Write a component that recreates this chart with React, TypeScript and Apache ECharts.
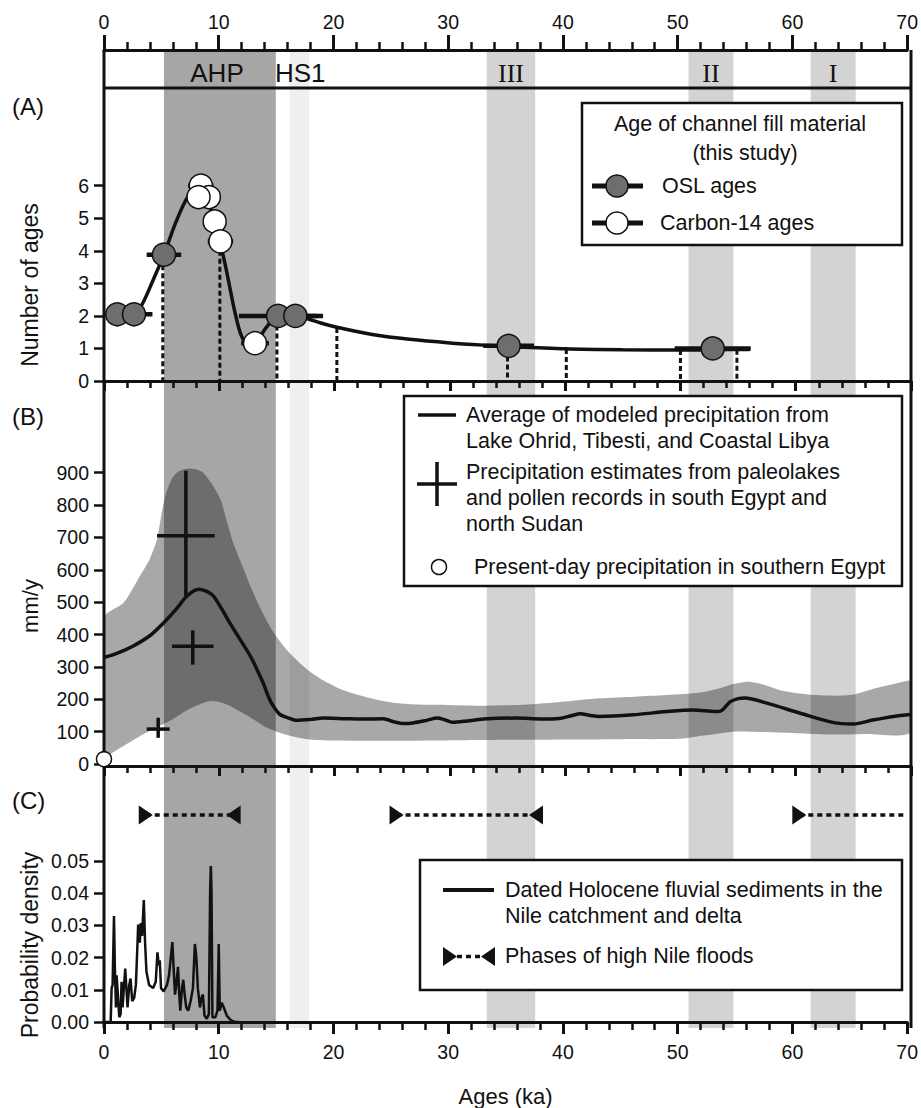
import React, { useEffect, useRef } from 'react';
import * as echarts from 'echarts';

// ---------- shared x axis ----------
const X_MIN = 0;
const X_MAX = 70;

// ---------- background periods ----------
const bandNames = ['AHP', 'HS1', 'III', 'II', 'I'];
const bandStart = [5.2, 16.1, 33.2, 50.7, 61.3];
const bandEnd = [14.9, 17.8, 37.4, 54.6, 65.2];

// ---------- panel A ----------
const countTicks = [0, 1, 2, 3, 4, 5, 6];
const oslAge = [1.15, 2.6, 5.2, 15.1, 16.6, 35.1, 52.8];
const oslCount = [2.05, 2.05, 3.88, 2.0, 2.0, 1.08, 1.0];
const oslErr = [0.7, 1.6, 1.5, 3.4, 2.4, 2.2, 3.3];
const c14Age = [8.4, 9.1, 8.2, 9.6, 10.1, 13.1];
const c14Count = [6.0, 5.65, 5.65, 4.9, 4.29, 1.16];
const c14Err = [1.1, 0.6, 0.9, 0.9, 1.1, 1.2];
const curveA: [number, number][] = [
  [2.6, 2.05], [3.3, 2.35], [4.2, 3.05], [5.2, 3.88], [6.2, 4.85], [7.2, 5.62], [8.0, 5.9],
  [8.8, 5.7], [9.5, 5.0], [10.1, 4.2], [10.5, 3.6], [10.9, 2.9], [11.3, 2.2], [11.8, 1.5],
  [12.3, 1.15], [12.8, 1.08], [13.4, 1.3], [14.2, 1.7], [15.1, 2.0], [16.6, 2.0], [17.6, 1.92],
  [18.8, 1.78], [20.2, 1.65], [23.4, 1.42], [26.5, 1.28], [30, 1.17], [33, 1.1], [35.1, 1.06],
  [40, 0.99], [45, 0.96], [50, 0.95], [53, 0.96], [56, 0.97],
];
const dropAge = [5.1, 10.05, 15.0, 20.2, 35.0, 40.1, 50.0, 54.9];
const dropTop = [3.8, 4.0, 1.95, 1.63, 1.0, 0.98, 0.95, 0.96];

// ---------- panel B ----------
const precipTicks = [0, 100, 200, 300, 400, 500, 600, 700, 800, 900];
const avgPrecip: [number, number][] = [
  [0, 329], [1, 340], [2.5, 364], [4, 397], [5.2, 437], [6.3, 480], [7.2, 519], [8.2, 540], [9, 532],
  [9.5, 519], [10.2, 480], [10.9, 437], [11.8, 385], [12.7, 333], [13.3, 290], [13.8, 251], [14.3, 205],
  [14.7, 178], [15.2, 155], [15.6, 147], [16.2, 140], [16.7, 135], [18, 138], [19, 142], [21, 140],
  [22.5, 139], [24.2, 140], [25.2, 130], [26, 125], [26.8, 127], [28, 135], [28.9, 142], [29.6, 136],
  [30.2, 129], [31.5, 133], [32.9, 139], [35.8, 142], [38, 139], [39.5, 141], [40.6, 150], [41.3, 155],
  [42.2, 150], [43, 147], [45.9, 152], [48.8, 162], [51.1, 167], [53.1, 162], [53.6, 166], [54.3, 192],
  [55, 202], [55.6, 204], [57.5, 188], [60.4, 157], [63.3, 128], [65, 124], [66.7, 136], [68.5, 147], [70, 153],
];
const precipUpper: [number, number][] = [
  [0, 452], [1.7, 498], [3.1, 580], [4.0, 636], [4.6, 694], [5.0, 775], [5.4, 838], [5.9, 882], [6.3, 900],
  [7.0, 911], [7.5, 913], [8.1, 909], [8.6, 900], [9.3, 868], [10.1, 818], [10.6, 757], [11.2, 684],
  [12.0, 612], [12.7, 550], [13.6, 478], [14.7, 407], [16.0, 347], [17.6, 293], [19.0, 259], [20.5, 232],
  [22, 214], [23.4, 201], [25, 190], [26.5, 185], [29, 183], [32.9, 180], [37.2, 185], [40, 193], [43, 203],
  [46, 208], [48.8, 213], [51.7, 221], [53.5, 235], [54.6, 247], [56, 254], [57.5, 242], [58.9, 226],
  [61.8, 213], [64.7, 213], [66.7, 232], [68.5, 247], [70, 254],
];
const precipLower: [number, number][] = [
  [0, 28], [1.5, 52], [3.1, 86], [4.5, 112], [6.0, 139], [7.0, 162], [8.0, 180], [9.0, 193], [9.5, 195],
  [10.2, 190], [10.9, 180], [11.8, 162], [12.7, 144], [14.1, 113], [15.6, 93], [17.6, 77], [20, 73],
  [26.5, 72], [35, 75], [45, 77], [50, 78], [52, 88], [54.6, 100], [56, 100], [60, 95], [63, 91],
  [66, 93], [70, 98],
];
const crossAge = [7.1, 7.7, 4.7];
const crossVal = [705, 364, 108];
const crossAgeErr = [2.5, 1.8, 1.0];
const crossLow = [519, 307, 81];
const crossHigh = [906, 413, 143];
const presentDay: [number, number] = [0, 15];

// ---------- panel C ----------
const densityTicks = [0, 0.01, 0.02, 0.03, 0.04, 0.05];
const density: [number, number][] = [
  [0, 0], [0.58, 0], [0.665, 0.0105], [0.75, 0.0115], [0.87, 0.0329], [0.95, 0.0166], [1.04, 0.0045],
  [1.1, 0.0145], [1.21, 0.0085], [1.33, 0.0015], [1.45, 0.0025], [1.53, 0.0125], [1.62, 0.0045],
  [1.73, 0.0105], [1.85, 0.0166], [1.97, 0.0095], [2.05, 0.0045], [2.2, 0.0115], [2.31, 0.0135],
  [2.46, 0.0065], [2.63, 0.0075], [2.78, 0.0115], [2.98, 0.0302], [3.12, 0.0246], [3.21, 0.0307],
  [3.32, 0.0267], [3.47, 0.0378], [3.58, 0.0246], [3.7, 0.0156], [3.93, 0.0115], [4.28, 0.0105],
  [4.51, 0.0125], [4.66, 0.0216], [4.77, 0.0176], [4.86, 0.0191], [4.97, 0.0105], [5.2, 0.0095],
  [5.49, 0.0115], [5.67, 0.0145], [5.81, 0.0196], [5.96, 0.0248], [6.07, 0.0166], [6.19, 0.0085],
  [6.3, 0.0115], [6.45, 0.0171], [6.56, 0.0085], [6.65, 0.0035], [6.8, 0.0105], [6.91, 0.0131],
  [7.03, 0.0085], [7.17, 0.0045], [7.34, 0.0035], [7.55, 0.0065], [7.75, 0.0105], [7.92, 0.0242],
  [8.04, 0.0206], [8.18, 0.0105], [8.36, 0.0045], [8.5, 0.0075], [8.62, 0.0085], [8.76, 0.002],
  [8.96, 0.001], [9.14, 0.0025], [9.25, 0.0408], [9.31, 0.0484], [9.37, 0.0408], [9.45, 0.0015],
  [9.71, 0.0015], [9.89, 0.0035], [10.0, 0.0242], [10.09, 0.0035], [10.26, 0.006], [10.44, 0.0045],
  [10.7, 0.002], [11.07, 0.0005], [11.45, 0], [11.8, 0],
];
const floodStart = [3.64, 25.5, 60.6];
const floodEnd = [11.3, 37.65, 70];
const floodHasEndMarker = [true, true, false];
const floodLevel = 0.0642;

// ---------- styles ----------
const FONT = "'Liberation Sans', Arial, Helvetica, sans-serif";
const SERIF = "'Liberation Serif', 'Times New Roman', serif";
const INK = '#111111';
const bandFill = ['#a6a6a6', '#efefef', '#d3d3d3', '#d3d3d3', '#d3d3d3'];
const GL = 104;
const GW = 807;
const GR = GL + GW;

function txt(text: string, x: number, y: number, size: number, align = 'left', family = FONT, extra: any = {}) {
  return {
    type: 'text',
    z: 60,
    x,
    y,
    ...extra,
    style: {
      text,
      x: 0,
      y: 0,
      fill: INK,
      fontSize: size,
      fontFamily: family,
      align,
      verticalAlign: 'middle',
      textAlign: align,
      textVerticalAlign: 'middle',
    },
  };
}

function ln(x1: number, y1: number, x2: number, y2: number, w: number, dash?: number[], z = 100) {
  return {
    type: 'line',
    z,
    shape: { x1, y1, x2, y2 },
    style: { stroke: INK, lineWidth: w, lineDash: dash || null },
  };
}

function xAxisBase(gridIndex: number, extra: any) {
  return {
    type: 'value',
    gridIndex,
    min: X_MIN,
    max: X_MAX,
    interval: 10,
    z: 10,
    splitLine: { show: false },
    axisLine: { onZero: false, lineStyle: { color: INK, width: 3 } },
    axisTick: { length: 10, lineStyle: { color: INK, width: 3 } },
    minorTick: { show: true, splitNumber: 5, length: 7, lineStyle: { color: INK, width: 2.5 } },
    axisLabel: { show: false, color: INK, fontSize: 19.5, fontFamily: FONT },
    ...extra,
  };
}

function yAxisBase(gridIndex: number, min: number, max: number, ticks: number[], fmt?: (v: number) => string) {
  return {
    type: 'value',
    gridIndex,
    min,
    max,
    z: 10,
    splitLine: { show: false },
    axisLine: { show: false },
    axisTick: { show: true, customValues: ticks, length: 10, lineStyle: { color: INK, width: 2.5 } },
    axisLabel: {
      show: true,
      customValues: ticks,
      color: INK,
      fontSize: 19.5,
      fontFamily: FONT,
      margin: 15,
      formatter: fmt || ((v: number) => String(v)),
    },
  };
}

function buildOption(): any {
  const errRender = (params: any, api: any) => {
    const a = api.value(0);
    const n = api.value(1);
    const e = api.value(2);
    const p1 = api.coord([a - e, n]);
    const p2 = api.coord([a + e, n]);
    return {
      type: 'line',
      shape: { x1: p1[0], y1: p1[1], x2: p2[0], y2: p2[1] },
      style: { stroke: INK, lineWidth: 4.5 },
    };
  };

  const graphics: any[] = [
    // frame
    ln(GL, 50, GL, 1028, 3),
    ln(GR, 50, GR, 1028, 3),
    ln(GL, 88, GR, 88, 3),
    // header labels
    txt('AHP', 217, 73, 26, 'center'),
    txt('HS1', 275, 73, 26, 'left'),
    txt('III', (bandStart[2] + bandEnd[2]) / 2 * (GW / 70) + GL, 73, 26, 'center', SERIF),
    txt('II', (bandStart[3] + bandEnd[3]) / 2 * (GW / 70) + GL, 73, 26, 'center', SERIF),
    txt('I', (bandStart[4] + bandEnd[4]) / 2 * (GW / 70) + GL, 73, 26, 'center', SERIF),
    // panel letters
    txt('(A)', 12, 106, 24),
    txt('(B)', 12, 416, 24),
    txt('(C)', 12, 800, 24),
    // axis names
    txt('Number of ages', 30, 285, 23, 'center', FONT, { rotation: Math.PI / 2 }),
    txt('mm/y', 30, 606, 22, 'center', FONT, { rotation: Math.PI / 2 }),
    txt('Probability density', 30, 945, 23, 'center', FONT, { rotation: Math.PI / 2 }),
    // legend A
    { type: 'rect', z: 50, shape: { x: 582, y: 103, width: 320, height: 142 }, style: { fill: '#ffffff', stroke: INK, lineWidth: 2.5 } },
    txt('Age of channel fill material', 740, 124, 21.5, 'center'),
    txt('(this study)', 745, 153, 21.5, 'center'),
    ln(592, 186, 643, 186, 5, undefined, 61),
    { type: 'circle', z: 62, shape: { cx: 617, cy: 186, r: 11 }, style: { fill: '#6e6e6e', stroke: INK, lineWidth: 1.5 } },
    txt('OSL ages', 662, 186, 21.5),
    ln(592, 223, 643, 223, 5, undefined, 61),
    { type: 'circle', z: 62, shape: { cx: 617, cy: 223, r: 11 }, style: { fill: '#ffffff', stroke: INK, lineWidth: 1.5 } },
    txt('Carbon-14 ages', 660, 223, 21.5),
    // legend B
    { type: 'rect', z: 50, shape: { x: 404, y: 396, width: 498, height: 190 }, style: { fill: '#ffffff', stroke: INK, lineWidth: 2.5 } },
    ln(418, 415, 456, 415, 3.5, undefined, 61),
    txt('Average of modeled precipitation from', 466, 415, 21.5),
    txt('Lake Ohrid, Tibesti, and Coastal Libya', 466, 441, 21.5),
    ln(417, 484, 457, 484, 3.5, undefined, 61),
    ln(437, 462, 437, 506, 3.5, undefined, 61),
    txt('Precipitation estimates from paleolakes', 466, 472, 21.5),
    txt('and pollen records in south Egypt and', 466, 498, 21.5),
    txt('north Sudan', 466, 524, 21.5),
    { type: 'circle', z: 62, shape: { cx: 439, cy: 567, r: 7.5 }, style: { fill: '#ffffff', stroke: INK, lineWidth: 1.5 } },
    txt('Present-day precipitation in southern Egypt', 474, 567, 21.5),
    // legend C
    { type: 'rect', z: 50, shape: { x: 420, y: 860, width: 482, height: 130 }, style: { fill: '#ffffff', stroke: INK, lineWidth: 2.5 } },
    ln(443, 890, 494, 890, 4, undefined, 61),
    txt('Dated Holocene fluvial sediments in the', 505, 890, 21.5),
    txt('Nile catchment and delta', 505, 916, 21.5),
    { type: 'polygon', z: 62, shape: { points: [[443, 947], [443, 966], [457, 956.5]] }, style: { fill: INK } },
    ln(457, 956.5, 482, 956.5, 3.5, [5, 4], 61),
    { type: 'polygon', z: 62, shape: { points: [[495, 947], [495, 966], [481, 956.5]] }, style: { fill: INK } },
    txt('Phases of high Nile floods', 505, 956, 21.5),
  ];

  return {
    animation: false,
    backgroundColor: '#ffffff',
    textStyle: { fontFamily: FONT },
    grid: [
      { left: GL, width: GW, top: 50, height: 38 },
      { left: GL, width: GW, top: 88, height: 293 },
      { left: GL, width: GW, top: 382, height: 384 },
      { left: GL, width: GW, top: 766, height: 262 },
      { left: GL, width: GW, top: 50, height: 978 },
    ],
    xAxis: [
      xAxisBase(0, {
        position: 'top',
        axisTick: { length: 15, lineStyle: { color: INK, width: 3 } },
        minorTick: { show: true, splitNumber: 5, length: 8, lineStyle: { color: INK, width: 2.5 } },
        axisLabel: { show: true, color: INK, fontSize: 19.5, fontFamily: FONT, margin: 18 },
      }),
      xAxisBase(1, {}),
      xAxisBase(2, {}),
      xAxisBase(3, {
        axisTick: { length: 12, lineStyle: { color: INK, width: 3 } },
        minorTick: { show: true, splitNumber: 5, length: 8, lineStyle: { color: INK, width: 2.5 } },
        axisLabel: { show: true, color: INK, fontSize: 19.5, fontFamily: FONT, margin: 20 },
        name: 'Ages (ka)',
        nameLocation: 'middle',
        nameGap: 63,
        nameTextStyle: { color: INK, fontSize: 22, fontFamily: FONT },
      }),
      { type: 'value', gridIndex: 4, min: X_MIN, max: X_MAX, show: false },
    ],
    yAxis: [
      { type: 'value', gridIndex: 0, min: 0, max: 1, show: false },
      yAxisBase(1, 0, 9, countTicks),
      yAxisBase(2, -6, 1180, precipTicks),
      yAxisBase(3, 0, 0.0794, densityTicks, (v: number) => v.toFixed(2)),
      { type: 'value', gridIndex: 4, min: 0, max: 1, show: false },
    ],
    graphic: { elements: graphics },
    series: [
      // background period bands
      {
        type: 'custom',
        xAxisIndex: 4,
        yAxisIndex: 4,
        z: 1,
        silent: true,
        data: bandStart.map((s, i) => [s, bandEnd[i], i]),
        renderItem: (params: any, api: any) => {
          const i = api.value(2);
          const p0 = api.coord([api.value(0), 1]);
          const p1 = api.coord([api.value(1), 0]);
          return {
            type: 'rect',
            shape: { x: p0[0], y: p0[1], width: p1[0] - p0[0], height: p1[1] - p0[1] },
            style: { fill: bandFill[i] },
          };
        },
      },
      // A: dotted drop lines
      {
        type: 'custom',
        xAxisIndex: 1,
        yAxisIndex: 1,
        z: 3,
        data: dropAge.map((a, i) => [a, dropTop[i]]),
        renderItem: (params: any, api: any) => {
          const p0 = api.coord([api.value(0), api.value(1)]);
          const p1 = api.coord([api.value(0), 0]);
          return {
            type: 'line',
            shape: { x1: p0[0], y1: p0[1], x2: p1[0], y2: p1[1] },
            style: { stroke: INK, lineWidth: 3, lineDash: [5, 3] },
          };
        },
      },
      // A: curve
      {
        type: 'line',
        xAxisIndex: 1,
        yAxisIndex: 1,
        z: 3,
        data: curveA,
        smooth: 0.3,
        showSymbol: false,
        symbol: 'none',
        lineStyle: { color: INK, width: 3.5 },
      },
      // A: error bars
      {
        type: 'custom',
        xAxisIndex: 1,
        yAxisIndex: 1,
        z: 3,
        data: oslAge.map((a, i) => [a, oslCount[i], oslErr[i]]),
        renderItem: errRender,
      },
      {
        type: 'custom',
        xAxisIndex: 1,
        yAxisIndex: 1,
        z: 3,
        data: c14Age.map((a, i) => [a, c14Count[i], c14Err[i]]),
        renderItem: errRender,
      },
      // A: points
      {
        type: 'scatter',
        xAxisIndex: 1,
        yAxisIndex: 1,
        z: 4,
        clip: false,
        symbolSize: 23,
        data: oslAge.map((a, i) => [a, oslCount[i]]),
        itemStyle: { color: '#6e6e6e', borderColor: INK, borderWidth: 1.5, opacity: 1 },
      },
      {
        type: 'scatter',
        xAxisIndex: 1,
        yAxisIndex: 1,
        z: 4,
        clip: false,
        symbolSize: 23,
        data: c14Age.map((a, i) => [a, c14Count[i]]),
        itemStyle: { color: '#ffffff', borderColor: INK, borderWidth: 1.5, opacity: 1 },
      },
      // B: uncertainty envelope
      {
        type: 'custom',
        xAxisIndex: 2,
        yAxisIndex: 2,
        z: 2,
        clip: true,
        silent: true,
        data: [[0, 0]],
        renderItem: (params: any, api: any) => {
          const pts: number[][] = [];
          precipUpper.forEach((p) => pts.push(api.coord(p)));
          for (let i = precipLower.length - 1; i >= 0; i--) pts.push(api.coord(precipLower[i]));
          return {
            type: 'polygon',
            shape: { points: pts, smooth: 0.25 },
            style: { fill: 'rgba(0,0,0,0.34)' },
          };
        },
      },
      // B: average line
      {
        type: 'line',
        xAxisIndex: 2,
        yAxisIndex: 2,
        z: 3,
        data: avgPrecip,
        smooth: 0.3,
        showSymbol: false,
        symbol: 'none',
        lineStyle: { color: INK, width: 3.5 },
      },
      // B: estimates crosses
      {
        type: 'custom',
        xAxisIndex: 2,
        yAxisIndex: 2,
        z: 4,
        data: crossAge.map((a, i) => [a, crossVal[i], crossAgeErr[i], crossLow[i], crossHigh[i]]),
        renderItem: (params: any, api: any) => {
          const a = api.value(0);
          const v = api.value(1);
          const e = api.value(2);
          const h0 = api.coord([a - e, v]);
          const h1 = api.coord([a + e, v]);
          const v0 = api.coord([a, api.value(3)]);
          const v1 = api.coord([a, api.value(4)]);
          return {
            type: 'group',
            children: [
              { type: 'line', shape: { x1: h0[0], y1: h0[1], x2: h1[0], y2: h1[1] }, style: { stroke: INK, lineWidth: 3.5 } },
              { type: 'line', shape: { x1: v0[0], y1: v0[1], x2: v1[0], y2: v1[1] }, style: { stroke: INK, lineWidth: 3.5 } },
            ],
          };
        },
      },
      // B: present-day
      {
        type: 'scatter',
        xAxisIndex: 2,
        yAxisIndex: 2,
        z: 120,
        clip: false,
        symbolSize: 15,
        data: [presentDay],
        itemStyle: { color: '#ffffff', borderColor: INK, borderWidth: 1.5, opacity: 1 },
      },
      // C: density
      {
        type: 'line',
        xAxisIndex: 3,
        yAxisIndex: 3,
        z: 3,
        data: density,
        showSymbol: false,
        symbol: 'none',
        lineStyle: { color: INK, width: 2.5 },
      },
      // C: flood phases
      {
        type: 'custom',
        xAxisIndex: 3,
        yAxisIndex: 3,
        z: 3,
        data: floodStart.map((s, i) => [s, floodEnd[i], floodLevel]),
        renderItem: (params: any, api: any) => {
          const p0 = api.coord([api.value(0), api.value(2)]);
          const p1 = api.coord([api.value(1), api.value(2)]);
          return {
            type: 'line',
            shape: { x1: p0[0], y1: p0[1], x2: p1[0], y2: p1[1] },
            style: { stroke: INK, lineWidth: 3.5, lineDash: [5, 4] },
          };
        },
      },
      {
        type: 'scatter',
        xAxisIndex: 3,
        yAxisIndex: 3,
        z: 4,
        clip: false,
        symbol: 'triangle',
        symbolRotate: -90,
        symbolSize: [19, 14],
        data: floodStart.map((s) => [s, floodLevel]),
        itemStyle: { color: INK, opacity: 1 },
      },
      {
        type: 'scatter',
        xAxisIndex: 3,
        yAxisIndex: 3,
        z: 4,
        clip: false,
        symbol: 'triangle',
        symbolRotate: 90,
        symbolSize: [19, 14],
        data: floodEnd.filter((_, i) => floodHasEndMarker[i]).map((e) => [e, floodLevel]),
        itemStyle: { color: INK, opacity: 1 },
      },
    ],
  };
}

export default function App() {
  const ref = useRef<HTMLDivElement>(null);
  useEffect(() => {
    if (!ref.current) return;
    const chart = echarts.init(ref.current, null, { renderer: 'svg' });
    chart.setOption(buildOption());
    return () => chart.dispose();
  }, []);
  return (
    <div
      ref={ref}
      style={{ position: 'absolute', left: 0, top: 0, width: 921, height: 1108, background: '#ffffff' }}
    />
  );
}
